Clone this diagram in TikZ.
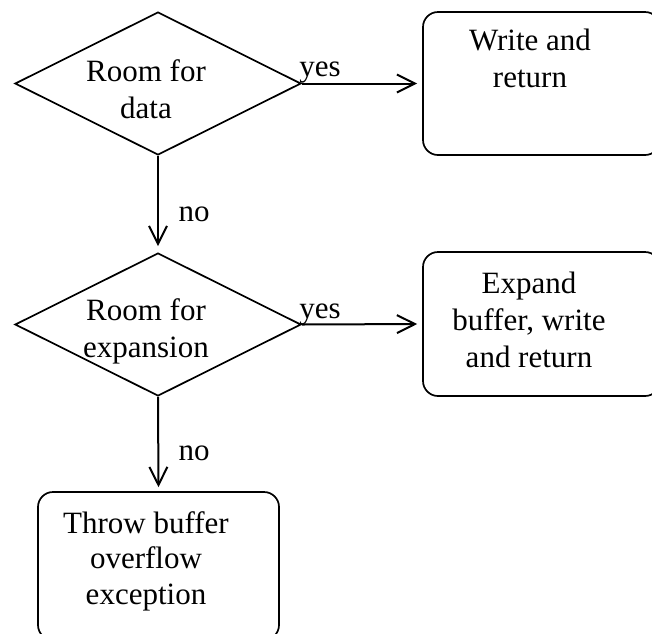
\documentclass[tikz,border=0pt]{standalone}
\usepackage{fontspec}
\setmainfont{Liberation Serif}
\usetikzlibrary{shapes.geometric,arrows.meta}
\begin{document}
\begin{tikzpicture}[x=1pt,y=-1pt,
  txt/.style={font=\fontsize{31}{37}\selectfont, align=center, inner sep=0pt},
  lbl/.style={font=\fontsize{31}{37}\selectfont, inner sep=0pt, anchor=base},
  decision/.style={diamond, draw, line width=1.7pt, minimum width=286pt, minimum height=143pt, inner sep=0pt},
  procbox/.style={rectangle, draw, line width=1.7pt, rounded corners=15pt, inner sep=0pt},
  flow/.style={line width=2pt, -{Straight Barb[length=18pt,width=18pt,line width=2pt]}}
]
\clip (0,0) rectangle (652,633);
\useasboundingbox (0,0) rectangle (652,633);
% shapes
\node[decision] (d1) at (158,83.5) {};
\node[decision] (d2) at (158,324.5) {};
\node[procbox, minimum width=237pt, minimum height=143pt] (b1) at (541.5,83.5) {};
\node[procbox, minimum width=237pt, minimum height=144pt] (b2) at (541.5,324) {};
\node[procbox, minimum width=241pt, minimum height=148pt] (b3) at (158.5,566) {};
% texts
\node[txt, anchor=north] (t1) at (146,59) {Room for\\data};
\node[txt, anchor=north] (t2) at (146,298) {Room for\\expansion};
\node[txt, anchor=north] (t3) at (530,29) {Write and\\return};
\node[txt, anchor=north] (t4) at (529,272) {Expand\\buffer, write\\and return};
\node[txt, anchor=north, font=\fontsize{31}{35.5}\selectfont] (t5) at (146,511) {Throw buffer\\overflow\\exception};
% connectors
\draw[flow, shorten >=5pt] (d1.east) -- (b1.west);
\draw[flow, shorten >=5pt] (d2.east) -- (b2.west);
\draw[flow, shorten >=6pt] (d1.south) -- (d2.north);
\draw[flow, shorten >=4pt] (d2.south) -- (b3.north);
% labels
\node[lbl] (y1) at (320,76) {yes};
\node[lbl] (y2) at (320,318) {yes};
\node[lbl] (n1) at (194,221) {no};
\node[lbl] (n2) at (194,460) {no};
\end{tikzpicture}
\end{document}
